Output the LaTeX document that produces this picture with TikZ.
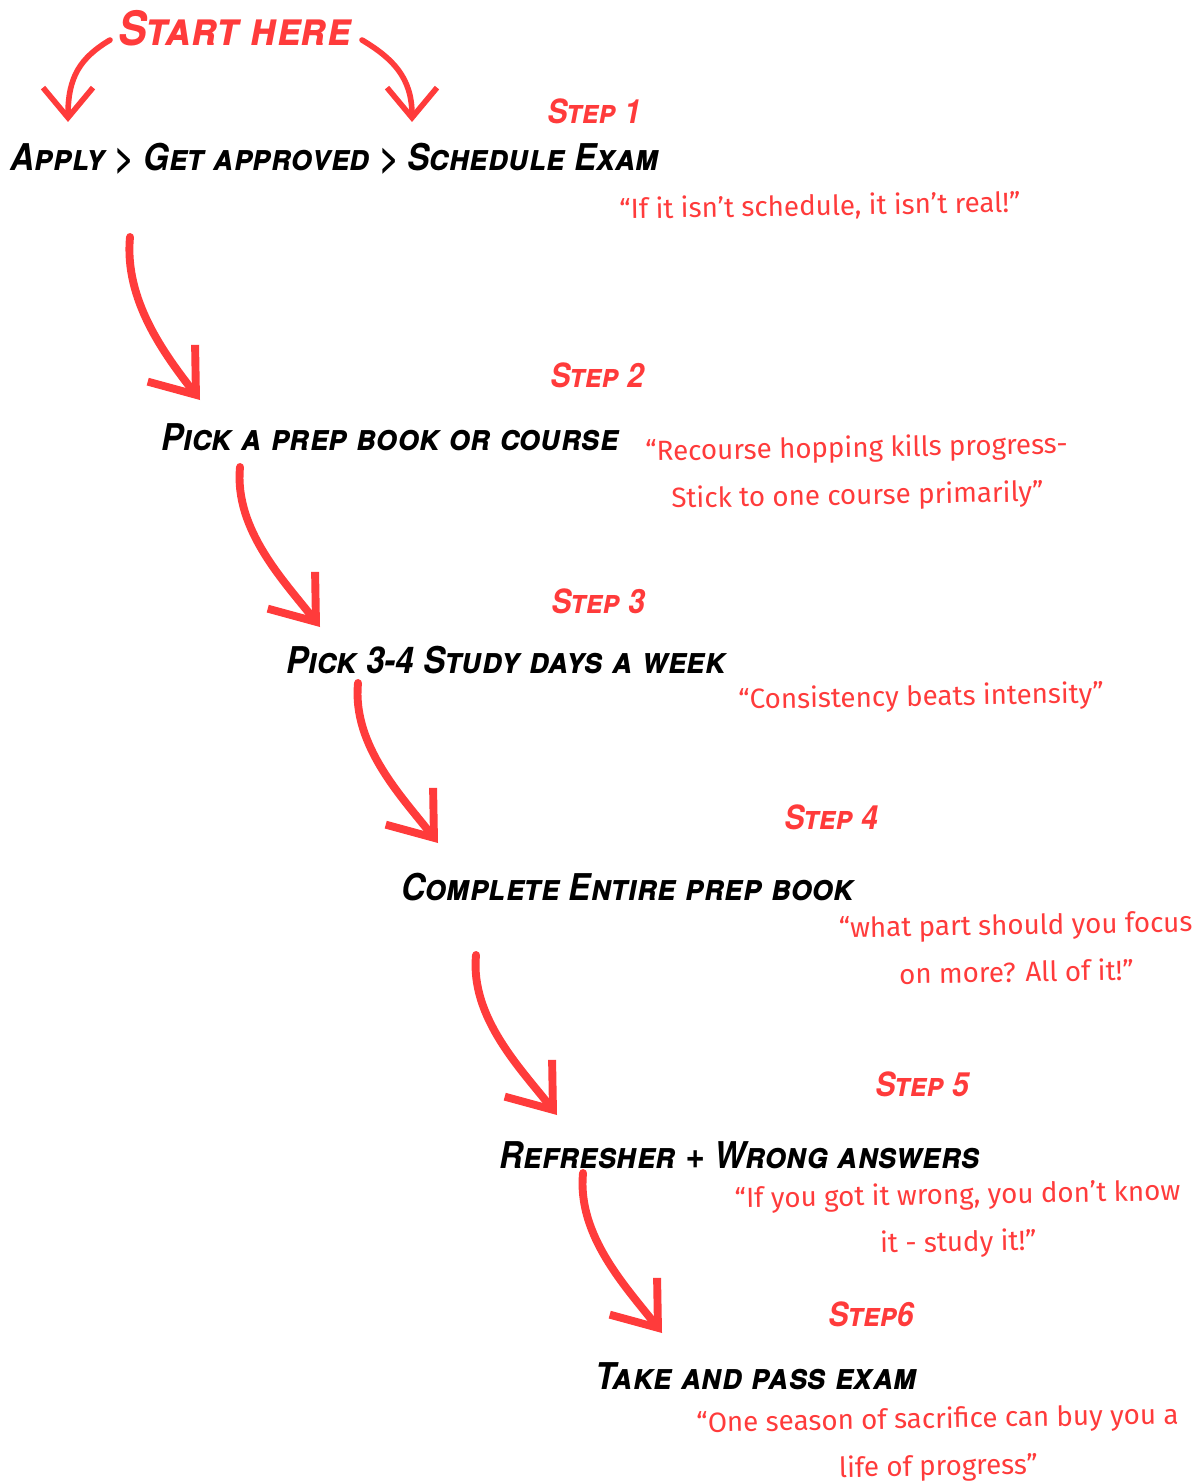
\documentclass[tikz,border=0pt]{standalone}
\usepackage{fontspec}
\setmainfont{TeX Gyre Heros}
\newfontfamily\headfont[FakeStretch=0.9]{TeX Gyre Heros}
\newfontfamily\quotefont{Fira Sans}
\usetikzlibrary{arrows.meta,positioning}
\definecolor{marker}{HTML}{FF3B3B}

\begin{document}
\begin{tikzpicture}[
      x=0.02cm, y=-0.02cm,
      task/.style={
        font=\headfont\bfseries\itshape\scshape\fontsize{21}{24}\selectfont,
        inner sep=0pt
      },
      steplabel/.style={task, text=marker,
        font=\headfont\bfseries\itshape\scshape\fontsize{19}{22}\selectfont},
      tip/.style={
        font=\quotefont\fontsize{15.8}{27}\selectfont, text=marker,
        align=center, inner sep=0pt, rotate=1
      },
      swoosh/.style={draw=marker, line width=4.5pt, line cap=round,
        -{Straight Barb[length=8mm,width=12mm,line width=4.5pt]}},
      hook/.style={swoosh, line width=3.2pt,
        -{Straight Barb[length=6mm,width=10mm,line width=3.2pt]}}
    ]
    \useasboundingbox (0,0) rectangle (1198,1483);

    \node[steplabel, font=\headfont\bfseries\itshape\scshape\fontsize{27}{30}\selectfont] (start) at (235,28) {Start here};

    \node[steplabel] (step1) at (594,111) {Step 1};
    \node[task] (apply) at (335,159) {Apply > Get approved > Schedule Exam};
    \node[tip] (quote1) at (820,207) {“If it isn’t schedule, it isn’t real!”};

    \node[steplabel] (step2) at (597,375) {Step 2};
    \node[task] (prep) at (390,437) {Pick a prep book or course};
    \node[tip] (quote2) at (857,473) {“Recourse hopping kills progress-\\Stick to one course primarily”};

    \node[steplabel] (step3) at (598,601) {Step 3};
    \node[task] (days) at (506,660) {Pick 3-4 Study days a week};
    \node[tip] (quote3) at (921,698) {“Consistency beats intensity”};

    \node[steplabel] (step4) at (831,817) {Step 4};
    \node[task] (book) at (628,887) {Complete Entire prep book};
    \node[tip] (quote4) at (1016,948) {“what part should you focus\\on more? All of it!”};

    \node[steplabel] (step5) at (922,1084) {Step 5};
    \node[task] (wrong) at (740,1155) {Refresher + Wrong answers};
    \node[tip] (quote5) at (958,1220) {“If you got it wrong, you don’t know\\it - study it!”};

    \node[steplabel] (step6) at (871,1314) {Step6};
    \node[task] (pass) at (756,1376) {Take and pass exam};
    \node[tip] (quote6) at (938,1444) {“One season of sacrifice can buy you a\\life of progress”};

    % start arrows
    \coordinate (hookL) at (110,40);
    \coordinate (hookLend) at (68,122);
    \coordinate (hookR) at (362,40);
    \coordinate (hookRend) at (412,122);
    \draw[hook] (hookL) .. controls +(-30,18) and +(0,-45) .. (hookLend);
    \draw[hook] (hookR) .. controls +(30,18) and +(0,-45) .. (hookRend);

    % step arrows
    \coordinate (go1) at (130,237);  \coordinate (to1) at (200,400);
    \coordinate (go2) at (240,467);  \coordinate (to2) at (320,627);
    \coordinate (go3) at (358,683);  \coordinate (to3) at (438,843);
    \coordinate (go4) at (476,955);  \coordinate (to4) at (557,1115);
    \coordinate (go5) at (583,1173); \coordinate (to5) at (662,1333);
    \draw[swoosh] (go1) .. controls +(-6,63) and +(-35,-45) .. (to1);
    \draw[swoosh] (go2) .. controls +(-6,63) and +(-35,-45) .. (to2);
    \draw[swoosh] (go3) .. controls +(-6,63) and +(-35,-45) .. (to3);
    \draw[swoosh] (go4) .. controls +(-6,63) and +(-35,-45) .. (to4);
    \draw[swoosh] (go5) .. controls +(-6,63) and +(-35,-45) .. (to5);
\end{tikzpicture}
\end{document}
